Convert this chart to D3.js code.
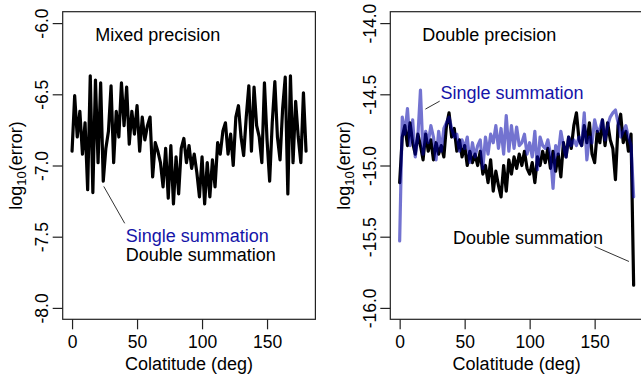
<!DOCTYPE html>
<html>
<head>
<meta charset="utf-8">
<script src="https://d3js.org/d3.v7.min.js"></script>
<style>
    body { margin: 0; background: #fff; }
    svg { display: block; font-family: "Liberation Sans", Arial, Helvetica, sans-serif; }
</style>
</head>
<body>
<div id="chart-area"></div>
<script>
// colatitude grid (deg)
var colat = [0, 2, 4, 6, 8, 10, 12, 14, 16, 18,
    20, 22, 24, 26, 28, 30, 32, 34, 36, 38,
    40, 42, 44, 46, 48, 50, 52, 54, 56, 58,
    60, 62, 64, 66, 68, 70, 72, 74, 76, 78,
    80, 82, 84, 86, 88, 90, 92, 94, 96, 98,
    100, 102, 104, 106, 108, 110, 112, 114, 116, 118,
    120, 122, 124, 126, 128, 130, 132, 134, 136, 138,
    140, 142, 144, 146, 148, 150, 152, 154, 156, 158,
    160, 162, 164, 166, 168, 170, 172, 174, 176, 178,
    180]

// mixed precision, log10(error)
var mixedErr = [-6.90, -6.51, -6.80, -6.62, -6.92, -6.70, -7.17, -6.37, -7.19, -6.40,
    -6.98, -6.42, -7.11, -6.88, -6.76, -6.44, -6.98, -6.62, -6.80, -6.42,
    -6.72, -6.45, -6.85, -6.62, -6.78, -6.58, -6.90, -6.66, -6.82, -6.72,
    -6.66, -7.08, -6.84, -6.90, -6.98, -7.15, -6.88, -7.23, -6.86, -7.27,
    -6.94, -7.20, -6.88, -6.81, -6.98, -6.86, -7.02, -6.92, -7.05, -7.22,
    -6.94, -7.27, -6.98, -7.22, -6.96, -7.15, -6.84, -6.92, -6.76, -6.70,
    -6.92, -6.78, -7.00, -6.66, -6.58, -6.80, -6.93, -6.66, -6.44, -6.90,
    -6.45, -6.72, -6.80, -6.98, -6.42, -6.82, -7.11, -6.70, -6.41, -6.80,
    -6.96, -6.60, -6.38, -7.20, -6.37, -6.98, -6.55, -6.80, -6.98, -6.49,
    -6.90]

// double precision, double summation
var doubleErrDouble = [-15.12, -14.80, -14.72, -14.86, -14.70, -14.84, -14.92, -14.78, -14.86, -14.96,
    -14.78, -14.90, -14.82, -14.96, -14.84, -14.92, -14.86, -14.94, -14.72, -14.63,
    -14.80, -14.74, -14.90, -14.82, -14.94, -14.86, -15.00, -14.90, -14.98, -14.92,
    -15.00, -14.90, -15.06, -15.00, -15.12, -14.96, -15.18, -15.04, -15.14, -15.22,
    -15.00, -15.18, -14.96, -15.06, -14.94, -15.02, -14.92, -15.00, -14.90, -15.02,
    -15.06, -14.98, -15.12, -14.94, -15.00, -14.90, -14.98, -14.88, -15.02, -14.90,
    -15.04, -14.92, -15.08, -14.84, -14.94, -14.80, -14.88, -14.72, -14.63, -14.82,
    -14.86, -14.72, -14.84, -14.70, -14.92, -14.98, -14.76, -14.84, -14.68, -14.86,
    -14.70, -14.82, -14.88, -15.10, -14.72, -14.64, -14.84, -14.76, -14.90, -14.78,
    -15.84]

// double precision, single summation
var doubleErrSingle = [-15.53, -14.66, -14.78, -14.60, -14.86, -14.68, -14.94, -14.80, -14.47, -14.92,
    -14.76, -14.84, -14.72, -14.80, -14.96, -14.76, -14.90, -14.74, -14.70, -14.66,
    -14.74, -14.80, -14.78, -14.90, -14.82, -14.88, -14.80, -14.98, -14.84, -14.94,
    -14.86, -14.82, -15.02, -14.80, -14.92, -14.78, -14.84, -14.72, -14.88, -14.74,
    -14.92, -14.65, -14.90, -14.72, -14.88, -14.73, -14.86, -14.84, -14.78, -14.92,
    -14.84, -14.94, -14.76, -15.03, -14.80, -14.86, -14.88, -14.82, -14.92, -15.16,
    -14.86, -14.92, -14.76, -14.86, -14.94, -14.80, -14.86, -14.82, -14.86, -14.80,
    -14.86, -14.63, -14.96, -14.80, -14.84, -14.68, -14.76, -14.74, -14.68, -14.82,
    -14.72, -14.66, -14.63, -14.61, -14.70, -14.80, -14.76, -14.72, -14.80, -14.86,
    -15.22]

var xTicks = [0, 50, 100, 150]
var yTicksMixed = [-8.0, -7.5, -7.0, -6.5, -6.0]
var yTicksDouble = [-16.0, -15.5, -15.0, -14.5, -14.0]

var blueText = "#1414a8"
var blueLine = "rgba(0, 0, 170, 0.55)"

function drawPanel(svg, p) {
    // R style: 4% extension on both axes
    var xPad = 0.04 * 180
    var yPad = 0.04 * (p.yTicks[p.yTicks.length - 1] - p.yTicks[0])

    var x = d3.scaleLinear()
        .domain([0 - xPad, 180 + xPad])
        .range([p.left, p.left + 252.7])
    var y = d3.scaleLinear()
        .domain([p.yTicks[0] - yPad, p.yTicks[p.yTicks.length - 1] + yPad])
        .range([319.3, 11.7])

    var g = svg.append("g")

    var clipId = "clip-" + p.id
    g.append("clipPath")
        .attr("id", clipId)
        .append("rect")
        .attr("x", x.range()[0])
        .attr("y", 11.7)
        .attr("width", x.range()[1] - x.range()[0])
        .attr("height", 319.3 - 11.7)

    var line = d3.line()
        .x((d, i) => x(colat[i]))
        .y(d => y(d))

    var lines = g.append("g").attr("clip-path", "url(#" + clipId + ")")
    p.series.forEach(s => {
        lines.append("path")
            .datum(s.values)
            .attr("d", line)
            .attr("fill", "none")
            .attr("stroke", s.color)
            .attr("stroke-width", 3.2)
            .attr("stroke-linejoin", "round")
            .attr("stroke-linecap", "round")
    })

    // box
    g.append("rect")
        .attr("x", x.range()[0])
        .attr("y", 11.7)
        .attr("width", x.range()[1] - x.range()[0])
        .attr("height", 319.3 - 11.7)
        .attr("fill", "none")
        .attr("stroke", "#222")
        .attr("stroke-width", 1.2)

    // axes
    var botAxis = d3.axisBottom(x).tickValues(xTicks).tickSize(10).tickSizeOuter(0)
    var leftAxis = d3.axisLeft(y).tickValues(p.yTicks).tickSize(10).tickSizeOuter(0)
        .tickFormat(d => d.toFixed(1))

    var xa = g.append("g")
        .attr("transform", "translate(0," + 319.3 + ")")
        .call(botAxis)
    xa.select(".domain").remove()
    xa.selectAll("line").attr("stroke", "#222").attr("stroke-width", 1.2)
    xa.selectAll("text")
        .attr("y", 29)
        .attr("dy", null)
        .attr("fill", "#000")
        .style("font-size", "17.5px")
        .style("font-family", "Liberation Sans, Arial, sans-serif")

    var ya = g.append("g")
        .attr("transform", "translate(" + x.range()[0] + ",0)")
        .call(leftAxis)
    ya.select(".domain").remove()
    ya.selectAll("line").attr("stroke", "#222").attr("stroke-width", 1.2)
    ya.selectAll("text")
        .attr("x", null)
        .attr("dy", null)
        .attr("text-anchor", "middle")
        .attr("transform", "translate(-14.5,0) rotate(-90)")
        .attr("fill", "#000")
        .style("font-size", "17.5px")
        .style("font-family", "Liberation Sans, Arial, sans-serif")

    // axis titles
    g.append("text")
        .attr("x", (x.range()[0] + x.range()[1]) / 2)
        .attr("y", 370)
        .attr("text-anchor", "middle")
        .style("font-size", "18px")
        .text("Colatitude (deg)")

    var yl = g.append("text")
        .attr("transform", "translate(" + (x.range()[0] - 40.7) + "," + (11.7 + 319.3) / 2 + ") rotate(-90)")
        .attr("text-anchor", "middle")
        .style("font-size", "18px")
    yl.append("tspan").text("log")
    yl.append("tspan").attr("dy", "0.3em").style("font-size", "13px").text("10")
    yl.append("tspan").attr("dy", "-0.22em").text("(error)")

    // panel title
    g.append("text")
        .attr("x", x(p.title.x))
        .attr("y", y(p.title.y))
        .style("font-size", "18px")
        .text(p.title.text)

    // annotations
    p.notes.forEach(n => {
        g.append("text")
            .attr("x", x(n.x))
            .attr("y", y(n.y))
            .attr("fill", n.color)
            .style("font-size", "18px")
            .text(n.text)
    })
    p.pointers.forEach(s => {
        g.append("line")
            .attr("x1", x(s[0])).attr("y1", y(s[1]))
            .attr("x2", x(s[2])).attr("y2", y(s[3]))
            .attr("stroke", "#333")
            .attr("stroke-width", 1)
    })
}

function init() {
    var svg = d3.select("#chart-area")
        .append("svg")
        .attr("width", 641)
        .attr("height", 382)

    drawPanel(svg, {
        id: "mixed",
        left: 62.7,
        yTicks: yTicksMixed,
        series: [{values: mixedErr, color: "#000"}],
        title: {text: "Mixed precision", x: 17.9, y: -6.128},
        notes: [
            {text: "Single summation", x: 41.3, y: -7.536, color: blueText},
            {text: "Double summation", x: 41.3, y: -7.674, color: "#000"}
        ],
        pointers: [[24.4, -7.147, 40.5, -7.406]]
    })

    drawPanel(svg, {
        id: "double",
        left: 390.3,
        yTicks: yTicksDouble,
        series: [{values: doubleErrDouble, color: "#000"}, {values: doubleErrSingle, color: blueLine}],
        title: {text: "Double precision", x: 17.4, y: -14.128},
        notes: [
            {text: "Single summation", x: 31.4, y: -14.534, color: blueText},
            {text: "Double summation", x: 41.0, y: -15.55, color: "#000"}
        ],
        pointers: [[19.8, -14.604, 30.8, -14.548], [150.0, -15.569, 176.4, -15.674]]
    })
}

window.addEventListener('load', init, false)
</script>
</body>
</html>
